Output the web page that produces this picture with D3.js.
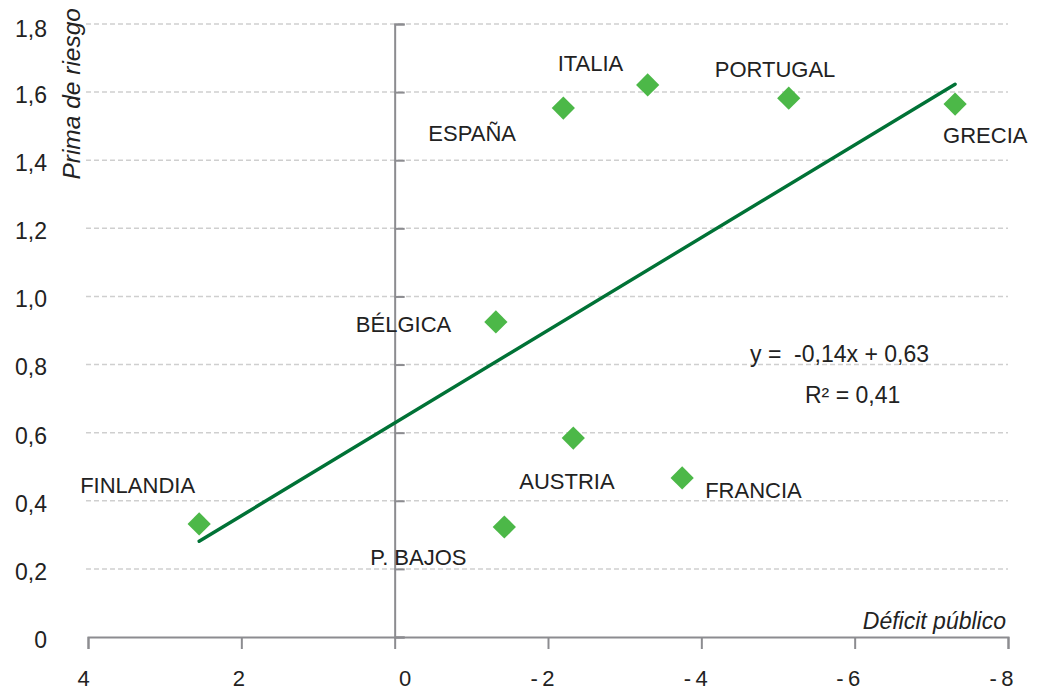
<!DOCTYPE html>
<html>
<head>
<meta charset="utf-8">
<script src="https://cdn.jsdelivr.net/npm/d3@7"></script>
<style>
  html, body { margin: 0; padding: 0; background: #fff; }
  svg { display: block; font-family: "Liberation Sans", Arial, sans-serif; }
  text { fill: #222; }
</style>
</head>
<body>
<svg id="chart" width="1045" height="691"></svg>
<script>
// ---- Data ----
const countries = ["FINLANDIA", "P. BAJOS", "AUSTRIA", "FRANCIA", "BÉLGICA", "ESPAÑA", "ITALIA", "PORTUGAL", "GRECIA"];
const deficit   = [2.55, -1.43, -2.33, -3.75, -1.32, -2.20, -3.30, -5.14, -7.31];
const prima     = [0.332, 0.323, 0.584, 0.467, 0.925, 1.553, 1.621, 1.582, 1.565];
const xTicks = [4, 2, 0, -2, -4, -6, -8];
const yTicks = [0, 0.2, 0.4, 0.6, 0.8, 1.0, 1.2, 1.4, 1.6, 1.8];
const equationText = "y =  -0,14x + 0,63";
const r2Text = "R² = 0,41";
const xTitle = "Déficit público";
const yTitle = "Prima de riesgo";

// ---- Layout (pixel offsets, kept apart from data) ----
const labelOffsets = [[-119,-31],[-134,38],[-54,51],[23,20],[-140,10],[-135,33],[-90,-14],[-74,-21],[-12,39]];
const xTickLabelShift = [-5, -3, 10, -6, -6, -7, -7];

const svg = d3.select("#chart");
const mLeft = 88, mRight = 1008, mTop = 24, mBottom = 637;

const x = d3.scaleLinear().domain([4, -8]).range([mLeft, mRight]);
const y = d3.scaleLinear().domain([0, 1.8]).range([mBottom, mTop]);

const axisColor = "#8c8c90";
const fmtY = d => d === 0 ? "0" : d.toFixed(1).replace(".", ",");
const fmtX = d => d < 0 ? "-\u2009" + Math.abs(d) : String(d);
const FONT = "Liberation Sans, Arial, sans-serif";

// gridlines
svg.append("g").selectAll("line")
  .data(yTicks.filter(d => d > 0))
  .join("line")
  .attr("x1", mLeft - 2).attr("x2", mRight)
  .attr("y1", d => y(d)).attr("y2", d => y(d))
  .attr("stroke", "#cfcfcf").attr("stroke-width", 1.5)
  .attr("stroke-dasharray", "5,3");

// y tick labels (left side)
const yl = svg.append("g").attr("transform", `translate(${mLeft},0)`)
  .call(d3.axisLeft(y).tickValues(yTicks).tickFormat(fmtY).tickSize(0).tickPadding(41));
yl.select(".domain").remove();
yl.selectAll("text").attr("font-size", 23).attr("fill", "#222").attr("font-family", FONT)
  .attr("y", d => d === 1.8 ? 5 : 3);

// vertical axis at x=0 with ticks to the right
const ya = svg.append("g").attr("transform", `translate(${x(0)},0)`)
  .call(d3.axisRight(y).tickValues(yTicks).tickFormat("").tickSize(10).tickSizeOuter(10));
ya.selectAll("line, path").attr("stroke", axisColor).attr("stroke-width", 2);

// x axis
const xa = svg.append("g").attr("transform", `translate(0,${mBottom})`)
  .call(d3.axisBottom(x).tickValues(xTicks).tickFormat(fmtX).tickSize(12).tickSizeOuter(12).tickPadding(21));
xa.selectAll("line, path").attr("stroke", axisColor).attr("stroke-width", 2);
xa.selectAll("text").attr("font-size", 22).attr("fill", "#222").attr("font-family", FONT)
  .attr("x", (d, i) => xTickLabelShift[i]);

// regression (least squares from the points)
const pts = deficit.map((d, i) => [d, prima[i]]);
const mx = d3.mean(deficit), my = d3.mean(prima);
const sxy = d3.sum(pts, p => (p[0] - mx) * (p[1] - my));
const sxx = d3.sum(pts, p => (p[0] - mx) ** 2);
const slope = sxy / sxx, intercept = my - slope * mx;
const [xmin, xmax] = d3.extent(deficit);
svg.append("line")
  .attr("x1", x(xmax)).attr("y1", y(intercept + slope * xmax))
  .attr("x2", x(xmin)).attr("y2", y(intercept + slope * xmin))
  .attr("stroke", "#007236").attr("stroke-width", 3.4).attr("stroke-linecap", "round");

// diamonds
const sym = d3.symbol().type(d3.symbolSquare).size(270);
svg.append("g").selectAll("path")
  .data(pts)
  .join("path")
  .attr("d", sym)
  .attr("transform", d => `translate(${x(d[0])},${y(d[1])}) rotate(45)`)
  .attr("fill", "#4cb848");

// labels
svg.append("g").selectAll("text")
  .data(pts)
  .join("text")
  .attr("x", (d, i) => x(d[0]) + labelOffsets[i][0])
  .attr("y", (d, i) => y(d[1]) + labelOffsets[i][1])
  .attr("font-size", 22)
  .text((d, i) => countries[i]);

// equation
svg.append("text").attr("x", 750).attr("y", 362).attr("font-size", 23)
  .style("white-space", "pre").text(equationText);
svg.append("text").attr("x", 805).attr("y", 403).attr("font-size", 23)
  .text(r2Text);

// axis titles
svg.append("text").attr("x", 1006).attr("y", 629).attr("text-anchor", "end")
  .attr("font-size", 23).attr("font-style", "italic").text(xTitle);
svg.append("text").attr("transform", "translate(80,8) rotate(-90)")
  .attr("text-anchor", "end").attr("font-size", 24.5).attr("font-style", "italic").text(yTitle);
</script>
</body>
</html>
